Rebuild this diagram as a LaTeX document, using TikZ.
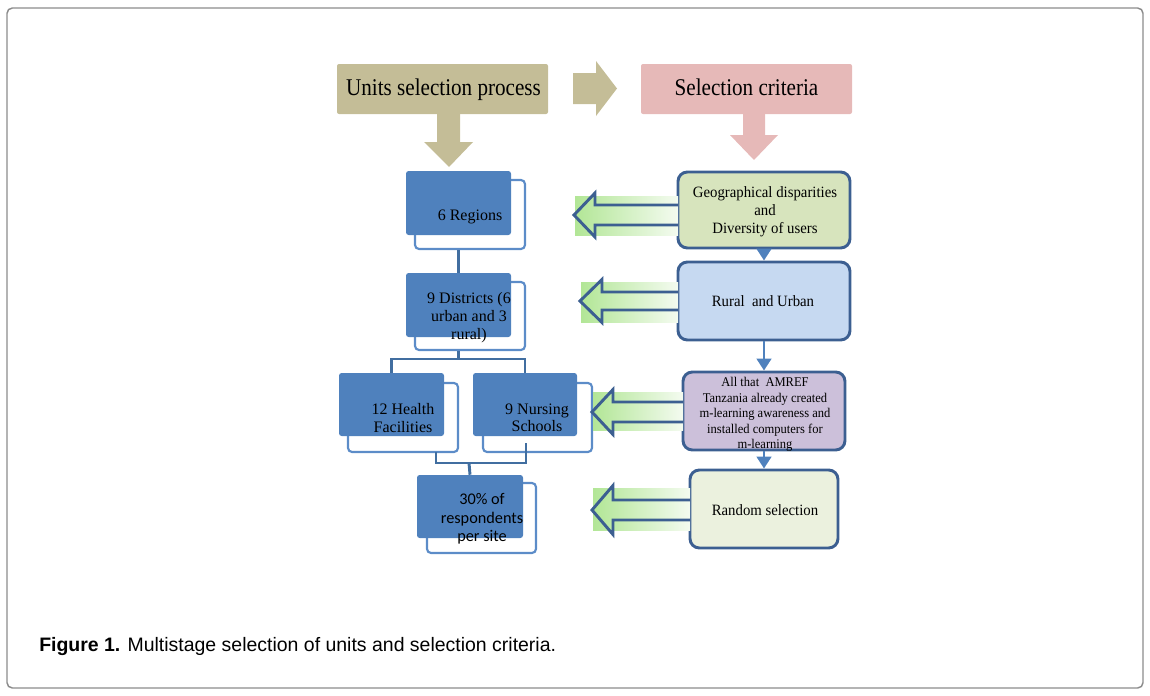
\documentclass[tikz,border=0pt]{standalone}
\usepackage{fontspec}
\setmainfont{Liberation Serif}
\newfontfamily\capfont{Liberation Sans}
\newfontfamily\calfont{Carlito}
\newfontfamily\topfont[FakeStretch=0.88]{Liberation Serif}
\newfontfamily\critfont[FakeStretch=0.94]{Liberation Serif}
\usetikzlibrary{fit,arrows.meta,calc}
\definecolor{khaki}{RGB}{196,189,151}
\definecolor{pinkc}{RGB}{230,185,184}
\definecolor{unitblue}{RGB}{79,129,189}
\definecolor{backblue}{RGB}{92,140,200}
\definecolor{connblue}{RGB}{65,110,160}
\definecolor{darkedge}{RGB}{60,95,145}
\definecolor{geofill}{RGB}{215,228,189}
\definecolor{ruralfill}{RGB}{198,217,241}
\definecolor{amreffill}{RGB}{204,192,218}
\definecolor{randfill}{RGB}{235,241,222}
\definecolor{gleft}{RGB}{178,230,150}
\definecolor{gright}{RGB}{244,251,240}
\definecolor{framegray}{RGB}{140,140,140}
\newcommand{\mygarrow}[8]{%
  % #1 tip x, #2 center y, #3 head back x, #4 head half, #5 body half, #6 right x, #7 rect top, #8 rect bottom
  \shade[left color=gleft, right color=gright] (#1+1,#7) rectangle (#6,#8);
  \draw[garrowline] (#6,#2-#5) -- (#3,#2-#5) -- (#3,#2-#4) -- (#1,#2) -- (#3,#2+#4) -- (#3,#2+#5) -- (#6,#2+#5);
}
\begin{document}
\begin{tikzpicture}[x=0.75pt,y=-0.75pt,
  every node/.style={inner sep=0pt},
  frame/.style={draw=framegray, line width=1.1pt, rounded corners=4pt},
  toptext/.style={anchor=base, font=\topfont\fontsize{18}{20}\selectfont},
  frontbox/.style={fill=unitblue, rounded corners=2pt},
  backbox/.style={fill=white, draw=backblue, line width=1.6pt, rounded corners=3pt},
  unittext/.style={align=center, text=black, font=\fontsize{12}{13}\selectfont},
  conn/.style={draw=connblue, line width=2.2pt},
  critbox/.style={draw=darkedge, line width=2.2pt, rounded corners=7pt},
  crittext/.style={align=center, font=\critfont\fontsize{11.8}{13.5}\selectfont},
  garrowline/.style={draw=darkedge, line width=2.2pt, miter limit=20},
  smallarr/.style={draw=unitblue, line width=2pt, -{Triangle[length=9pt,width=11pt]}}
]
\useasboundingbox (0,0) rectangle (1150,696);
\node[frame, fit={(7,8)(1143,688)}] (frame) {};

% top row
\node[fill=khaki, rounded corners=1.5pt, fit={(337,64)(548,114)}] (units) {};
\node[toptext] (unitsT) at (443.5,95) {Units selection process};
\node[fill=pinkc, rounded corners=1.5pt, fit={(641,64)(852,114)}] (crit) {};
\node[toptext] (critT) at (746.5,95) {Selection criteria};
\fill[khaki] (573,73) -- (596,73) -- (596,61) -- (617,88.5) -- (596,116) -- (596,104) -- (573,104) -- cycle;
\fill[khaki] (437,113) -- (460,113) -- (460,142) -- (473,142) -- (449,167) -- (424,142) -- (437,142) -- cycle;
\fill[pinkc] (743,113) -- (765,113) -- (765,135) -- (778,135) -- (754,160) -- (730,135) -- (743,135) -- cycle;

% left column
\node[backbox, fit={(415,180)(525,249)}] (regb) {};
\node[frontbox, fit={(406,171)(511,235)}] (reg) {};
\node[unittext, anchor=base] (regT) at (470,220) {6 Regions};

\node[backbox, fit={(415,282)(525,350)}] (distb) {};
\node[frontbox, fit={(406,273)(511,337)}] (dist) {};
\node[unittext, font=\fontsize{12}{13.5}\selectfont] (distT) at (469,318) {9 Districts (6\\urban and 3\\rural)};

\node[backbox, fit={(348,383)(458,452)}] (hfb) {};
\node[frontbox, fit={(339,373)(444,436)}] (hf) {};
\node[unittext] (hfT) at (403,418) {12 Health\\Facilities};

\node[backbox, fit={(483,383)(592,452)}] (nsb) {};
\node[frontbox, fit={(473,373)(577,436)}] (ns) {};
\node[unittext] (nsT) at (537,418) {9 Nursing\\Schools};

\node[backbox, fit={(427,483)(536,553)}] (pctb) {};
\node[frontbox, fit={(417,475)(523,538)}] (pct) {};
\node[align=center, font=\calfont\fontsize{12.2}{14}\selectfont] (pctT) at (482,519) {30\% of\\respondents\\per site};

% connectors left
\draw[conn] (reg.south |- regb.south) -- (dist.north);
\coordinate (j1) at (458.5,359);
\draw[conn] (dist.south |- distb.south) -- (j1);
\draw[conn] (hf.north) |- (j1) -| (ns.north);
\coordinate (j2) at (469,463);
\coordinate (hfdrop) at (436,452);
\coordinate (nsdrop) at (526,443);
\draw[conn] (hfdrop) |- (j2) -| (nsdrop);
\draw[conn] (j2) -- (pct.north);

% right column
\node[critbox, fill=geofill, fit={(678,172)(850,248)}] (geo) {};
\node[crittext] (geoT) at (765,212) {Geographical disparities\\and\\Diversity of users};
\node[critbox, fill=ruralfill, fit={(678,262)(850,340)}] (rural) {};
\node[crittext, anchor=base] (ruralT) at (763,306) {Rural\ \ and Urban};
\node[critbox, fill=amreffill, fit={(683,372)(845,450)}] (amref) {};
\node[align=center, font=\critfont\fontsize{10}{11.6}\selectfont] (amrefT) at (765,414.5) {All that\ \ AMREF\\Tanzania already created\\m-learning awareness and\\installed computers for\\m-learning};
\node[critbox, fill=randfill, fit={(690,470)(838,548)}] (rand) {};
\node[crittext, anchor=base] (randT) at (765,515) {Random selection};

\draw[smallarr] (geo.south) -- (rural.north);
\draw[smallarr] (rural.south) -- (amref.north);
\draw[smallarr] (amref.south) -- (rand.north);

% green arrows
\mygarrow{574}{215}{595}{22}{10}{678}{196}{235}
\mygarrow{580}{301}{602}{21.5}{9}{678}{282}{322}
\mygarrow{592}{412}{613}{22.5}{10}{683}{392}{430}
\mygarrow{592}{510}{613}{24.5}{10}{690}{488}{530}

% caption
\node[anchor=west, font=\capfont\fontsize{14.6}{17}\selectfont] (cap) at (39,646.5) {\textbf{Figure 1.} Multistage selection of units and selection criteria.};
\end{tikzpicture}
\end{document}
